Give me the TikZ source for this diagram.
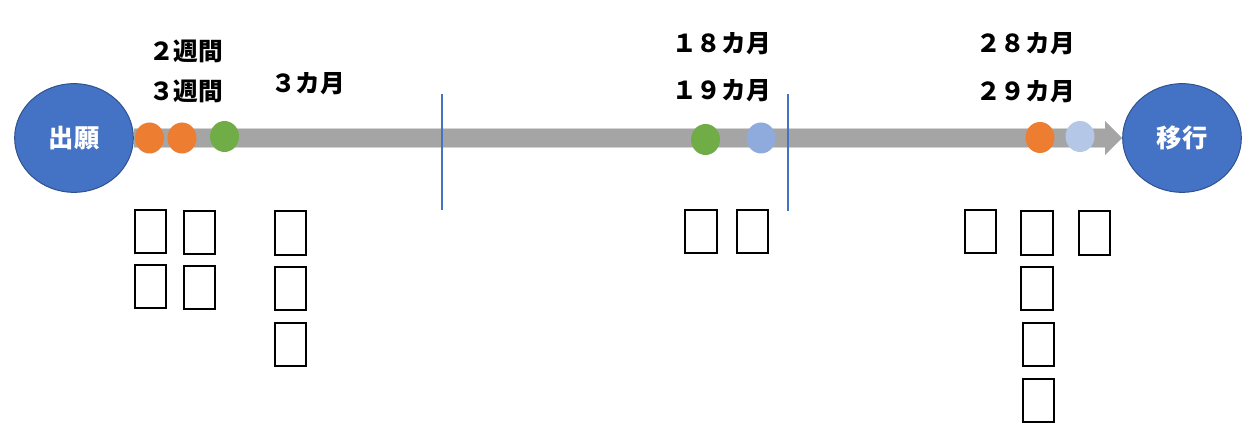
\documentclass[tikz,border=0pt]{standalone}
\usepackage{fontspec}
\newfontfamily\jp{Noto Sans CJK JP}
\usetikzlibrary{shapes.geometric,arrows.meta}
\definecolor{cblue}{HTML}{4472C4}
\definecolor{cborder}{HTML}{2F528F}
\definecolor{corange}{HTML}{ED7D31}
\definecolor{cgreen}{HTML}{70AD47}
\definecolor{cmid}{HTML}{8FAADC}
\definecolor{clight}{HTML}{B4C7E7}
\definecolor{cgray}{HTML}{A5A5A5}
\definecolor{cgrayedge}{HTML}{D3D3D3}
\begin{document}
\begin{tikzpicture}[x=0.75pt,y=-0.75pt,
  bigcirc/.style={ellipse, fill=cblue, draw=cborder, line width=0.75pt,
    minimum width=89pt, minimum height=81.5pt, inner sep=0pt,
    font=\jp\bfseries\fontsize{19}{21}\selectfont, text=white},
  dot/.style={ellipse, fill=#1, minimum width=21.75pt, minimum height=23.25pt, inner sep=0pt},
  lbl/.style={font=\jp\bfseries\fontsize{18.5}{20}\selectfont, inner sep=0pt},
  tofu/.style={rectangle, draw=black, line width=1.25pt,
    minimum width=23.6pt, minimum height=32.6pt, inner sep=0pt},
  divider/.style={draw=cblue, line width=0.9pt}
]
\useasboundingbox (0,0) rectangle (1260,441);

% main circles
\node[bigcirc] (start) at (74,138) {出願};
\node[bigcirc] (goal) at (1182,138) {移行};

% timeline bar
\draw[cgrayedge, line width=15pt, shorten >=12.75pt] (start.east) -- (goal.west);
\draw[cgray, line width=13.5pt, -{Triangle[length=12.75pt, width=24.75pt]}] (start.east) -- (goal.west);

% dividers
\coordinate (d1t) at (442,94);
\coordinate (d1b) at (442,210);
\coordinate (d2t) at (788,94);
\coordinate (d2b) at (788,211);
\draw[divider] (d1t) -- (d1b);
\draw[divider] (d2t) -- (d2b);

% dots
\node[dot=corange] (o1) at (149.5,138) {};
\node[dot=corange] (o2) at (182,138) {};
\node[dot=cgreen]  (g1) at (224.5,136.5) {};
\node[dot=cgreen]  (g2) at (705.5,139.5) {};
\node[dot=cmid]    (b1) at (761,138) {};
\node[dot=corange] (o3) at (1040,137.5) {};
\node[dot=clight]  (l1) at (1080,136.5) {};

% labels
\node[lbl] (t2w) at (186,51.5) {２週間};
\node[lbl] (t3w) at (186,91.5) {３週間};
\node[lbl] (t3m) at (308,84) {３カ月};
\node[lbl] (t18) at (721.5,44) {１８カ月};
\node[lbl] (t19) at (721.5,91) {１９カ月};
\node[lbl] (t28) at (1025.5,44) {２８カ月};
\node[lbl] (t29) at (1025.5,92) {２９カ月};

% boxes
\node[tofu] (x1) at (150.5,231.5) {};
\node[tofu] (x2) at (150.5,286.5) {};
\node[tofu] (x3) at (199.5,232.5) {};
\node[tofu] (x4) at (199.5,287.5) {};
\node[tofu] (x5) at (290.5,233) {};
\node[tofu] (x6) at (290.5,288.5) {};
\node[tofu] (x7) at (290.5,344.5) {};
\node[tofu] (x8) at (701,231.5) {};
\node[tofu] (x9) at (752.5,231.5) {};
\node[tofu] (x10) at (980.5,231.5) {};
\node[tofu] (x11) at (1037,233) {};
\node[tofu] (x12) at (1037,288.5) {};
\node[tofu] (x13) at (1038.5,344.5) {};
\node[tofu] (x14) at (1038.5,400.5) {};
\node[tofu] (x15) at (1094.5,233) {};
\end{tikzpicture}
\end{document}
